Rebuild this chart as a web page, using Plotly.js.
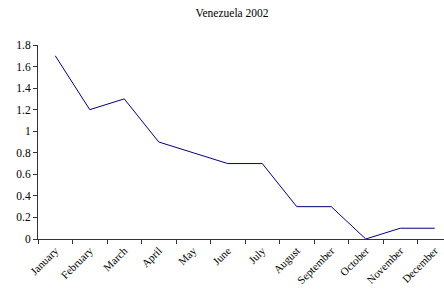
<!DOCTYPE html>
<html><head><meta charset="utf-8">
<script src="https://cdn.plot.ly/plotly-3.0.1.min.js"></script>
<style>html,body{margin:0;padding:0;overflow:hidden;background:#fff;width:444px;height:296px}</style>
</head><body>
<div id="chart" style="width:464px;height:296px"></div>
<script>
const months = ["January","February","March","April","May","June","July","August","September","October","November","December"];
const values = [1.7,1.2,1.3,0.9,0.8,0.7,0.7,0.3,0.3,0,0.1,0.1];
const chartTitle = "Venezuela 2002";

const font = {family: "Liberation Serif, Times New Roman, serif", size: 11, color: "#000"};
Plotly.newPlot("chart", [{
  x: months, y: values, type: "scatter", mode: "lines",
  line: {color: "#000080", width: 1}, cliponaxis: false, hoverinfo: "skip"
}], {
  width: 464, height: 296,
  margin: {l: 38, r: 12, t: 45, b: 57},
  paper_bgcolor: "#fff", plot_bgcolor: "#fff",
  font: font,
  showlegend: false,
  title: {text: chartTitle, font: {family: font.family, size: 11.5, color: "#000"}, x: 0.5, xanchor: "center", y: 0.955, yanchor: "middle"},
  xaxis: {type: "category", range: [-0.5, 11.5], tickson: "boundaries", ticks: "outside", ticklen: 4, tickcolor: "#333",
    showline: true, linecolor: "#333", linewidth: 1, showgrid: false, zeroline: false, tickangle: -45,
    tickfont: {family: font.family, size: 11, color: "#000"}},
  yaxis: {range: [0, 1.8], dtick: 0.2, tick0: 0, ticks: "outside", ticklen: 4, tickcolor: "#333",
    showline: true, linecolor: "#333", linewidth: 1, showgrid: false, zeroline: false,
    tickfont: {family: font.family, size: 11.5, color: "#000"}}
}, {staticPlot: true});
</script>
</body></html>
